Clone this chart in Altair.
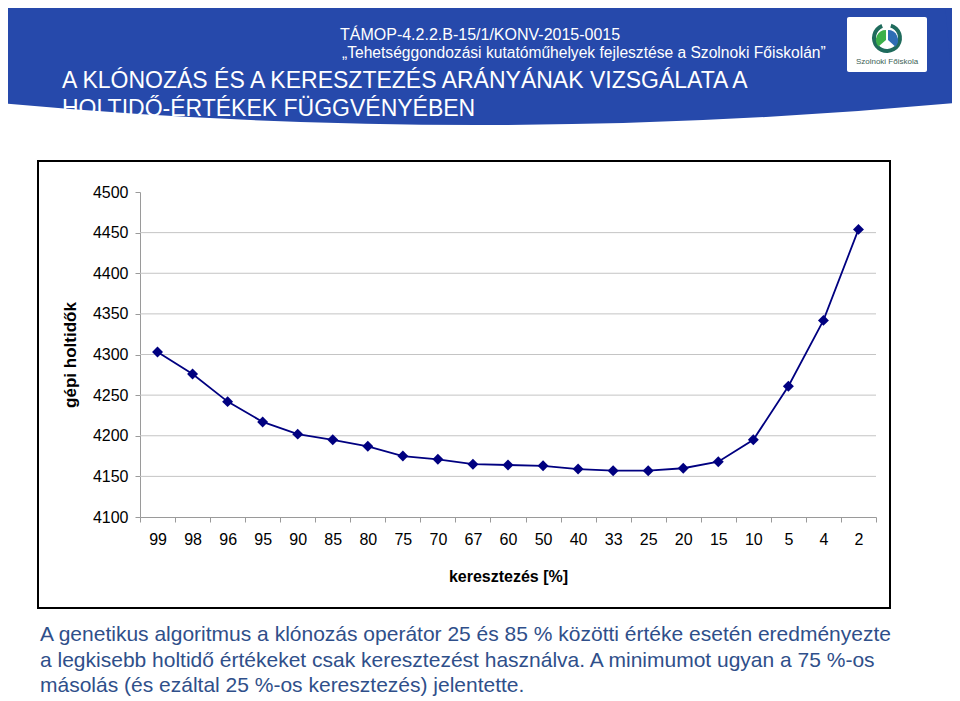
import altair as alt
import pandas as pd

# ---------------- data ----------------
categories = ["99", "98", "96", "95", "90", "85", "80", "75", "70", "67", "60",
              "50", "40", "33", "25", "20", "15", "10", "5", "4", "2"]
holtido = [4303, 4276, 4242, 4217, 4202, 4195, 4187, 4175, 4171, 4165, 4164,
           4163, 4159, 4157, 4157, 4160, 4168, 4195, 4261, 4342, 4454]
y_ticks = [4100, 4150, 4200, 4250, 4300, 4350, 4400, 4450, 4500]
y_grid = [4150, 4200, 4250, 4300, 4350, 4400, 4450]

header_lines = ["TÁMOP-4.2.2.B-15/1/KONV-2015-0015",
                "„Tehetséggondozási kutatóműhelyek fejlesztése a Szolnoki Főiskolán”"]
title_lines = ["A KLÓNOZÁS ÉS A KERESZTEZÉS ARÁNYÁNAK VIZSGÁLATA A",
               "HOLTIDŐ-ÉRTÉKEK FÜGGVÉNYÉBEN"]
body_lines = ["A genetikus algoritmus a klónozás operátor 25 és 85 % közötti értéke esetén eredményezte",
              "a legkisebb holtidő értékeket csak keresztezést használva. A minimumot ugyan a 75 %-os",
              "másolás (és ezáltal 25 %-os keresztezés) jelentette."]
logo_text = "Szolnoki Főiskola"

FONT = "Liberation Sans"
BLUE = "#2649AB"
NAVY = "#000080"

# page position of plot origin
OX, OY = 140, 192
PW, PH = 736, 325
CANVAS_W, CANVAS_H = 944, 693


def px(v):
    return v - OX


def py(v):
    return v - OY


df = pd.DataFrame({"kereszt": categories, "holtido": holtido})
gdf = pd.DataFrame({"holtido": y_grid})
one = pd.DataFrame({"k": [0]})

yscale = alt.Scale(domain=[4100, 4500], nice=False, zero=False)
xscale = alt.Scale(type="band", paddingInner=0, paddingOuter=0)

y_axis = alt.Axis(
    values=y_ticks, format="d", grid=False, labelFont=FONT, labelFontSize=16,
    labelColor="black", labelPadding=7, tickSize=5, tickColor="#9a9a9a",
    domainColor="#9a9a9a",
    titleFont=FONT, titleFontSize=17, titleFontWeight="bold", titleColor="black",
    titleX=-70, titleY=PH / 2, titleAngle=270, titleAlign="center",
    titleBaseline="middle",
)

x_enc = alt.X(
    "kereszt:N", sort=categories, scale=xscale, title="keresztezés [%]",
    axis=alt.Axis(
        labelAngle=0, labelFont=FONT, labelFontSize=16, labelColor="black",
        labelPadding=9, tickSize=5, tickColor="#9a9a9a", domainColor="#9a9a9a",
        tickBand="extent", grid=False,
        titleFont=FONT, titleFontSize=16, titleFontWeight="bold", titleColor="black",
        titleX=PW / 2, titleY=64, titleAlign="center", titleBaseline="alphabetic",
    ),
)
y_enc = alt.Y("holtido:Q", scale=yscale, title="gépi holtidők", axis=y_axis)

grid = alt.Chart(gdf).mark_rule(color="#c4c4c4", strokeWidth=1).encode(
    y=y_enc, x=alt.value(0), x2=alt.value(PW),
)

base = alt.Chart(df).encode(x=x_enc, y=y_enc)
line = base.mark_line(color=NAVY, strokeWidth=1.8)
pts = base.mark_point(shape="diamond", filled=True, size=120, color=NAVY, opacity=1)

# ---------------- decorations ----------------
header_rect = alt.Chart(one).mark_rect(color=BLUE).encode(
    x=alt.value(px(0)), x2=alt.value(px(955)),
    y=alt.value(py(0)), y2=alt.value(py(103)),
)
R = 5193
header_bulge = alt.Chart(one).mark_arc(
    color=BLUE, radius=R, theta=3.1416 - 0.092, theta2=3.1416 + 0.092
).encode(x=alt.value(px(477)), y=alt.value(py(125 - R)))

hdr1 = alt.Chart(one).mark_text(
    font=FONT, fontSize=16, color="white", align="left", baseline="alphabetic"
).encode(x=alt.value(px(340)), y=alt.value(py(40)), text=alt.value(header_lines[0]))
hdr2 = alt.Chart(one).mark_text(
    font=FONT, fontSize=15.6, color="white", align="left", baseline="alphabetic"
).encode(x=alt.value(px(342)), y=alt.value(py(58)), text=alt.value(header_lines[1]))

ttl = alt.Chart(one).mark_text(
    font=FONT, fontSize=23, color="white", align="left", baseline="alphabetic",
    lineHeight=28,
).encode(x=alt.value(px(62)), y=alt.value(py(88)), text=alt.value(title_lines))

logo_box = alt.Chart(one).mark_rect(color="white", cornerRadius=2).encode(
    x=alt.value(px(847)), x2=alt.value(px(927)),
    y=alt.value(py(17)), y2=alt.value(py(72)),
)
logo_ring = alt.Chart(one).mark_arc(
    color="#1f6b5c", radius=15, innerRadius=11, theta=0.3, theta2=5.9
).encode(x=alt.value(px(887)), y=alt.value(py(38)))
logo_green = alt.Chart(one).mark_arc(
    color="#3cb04a", radius=10, theta=4.0, theta2=6.28
).encode(x=alt.value(px(886)), y=alt.value(py(40)))
logo_blue = alt.Chart(one).mark_arc(
    color="#2e6db4", radius=10, theta=0.0, theta2=2.3
).encode(x=alt.value(px(888)), y=alt.value(py(40)))
logo_txt = alt.Chart(one).mark_text(
    font=FONT, fontSize=8, color="#3d5f55", align="center", baseline="alphabetic"
).encode(x=alt.value(px(887)), y=alt.value(py(64)), text=alt.value(logo_text))

frame = alt.Chart(one).mark_rect(
    filled=False, stroke="black", strokeWidth=2
).encode(
    x=alt.value(px(38)), x2=alt.value(px(890)),
    y=alt.value(py(161)), y2=alt.value(py(608)),
)

body = alt.Chart(one).mark_text(
    font=FONT, fontSize=21, color="#2f4f8a", align="left", baseline="alphabetic",
    lineHeight=25.5,
).encode(x=alt.value(px(40)), y=alt.value(py(641)), text=alt.value(body_lines))

chart = alt.layer(
    header_rect, header_bulge, hdr1, hdr2, ttl,
    logo_box, logo_ring, logo_green, logo_blue, logo_txt,
    frame, grid, line, pts, body,
).properties(
    width=PW, height=PH,
    autosize=alt.AutoSizeParams(type="none"),
    padding={"left": OX - 8, "top": OY - 8, "right": CANVAS_W - (OX - 8) - PW,
             "bottom": CANVAS_H - (OY - 8) - PH},
    background="white",
).configure_view(strokeWidth=0)

chart.save("out.html", embed_options={"renderer": "svg", "actions": False})
